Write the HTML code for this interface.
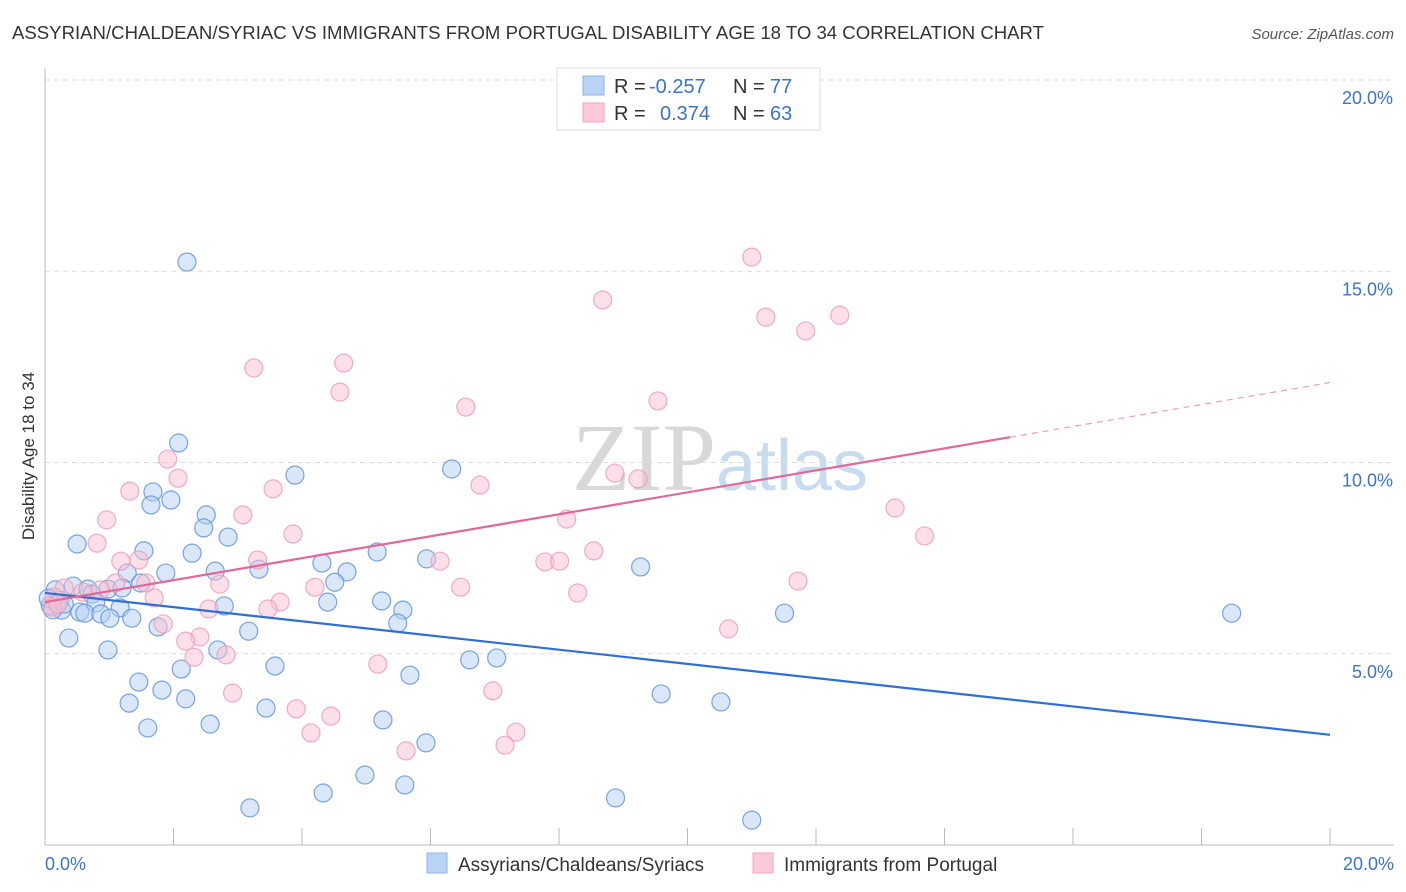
<!DOCTYPE html>
<html><head><meta charset="utf-8">
<style>
body{margin:0;background:#fff;font-family:"Liberation Sans",sans-serif;}
svg{display:block}
</style></head>
<body>
<svg id="chart" width="1406" height="892" xmlns="http://www.w3.org/2000/svg">
<text x="12" y="39" font-size="18" fill="#333" textLength="1032" lengthAdjust="spacingAndGlyphs">ASSYRIAN/CHALDEAN/SYRIAC VS IMMIGRANTS FROM PORTUGAL DISABILITY AGE 18 TO 34 CORRELATION CHART</text>
<text x="1394" y="39" font-size="15" fill="#555" font-style="italic" text-anchor="end">Source: ZipAtlas.com</text>
<text x="716" y="490" font-size="96" font-family="Liberation Serif" fill="#d8d8d8" text-anchor="end">ZIP</text>
<text x="716" y="490" font-size="72" fill="#c8dcf0">atlas</text>
<g id="grid"></g>
<g id="pts"></g>
<g id="lines"></g>
<text x="34" y="456" font-size="17" fill="#333" text-anchor="middle" transform="rotate(-90 34 456)">Disability Age 18 to 34</text>
<text x="45" y="870" font-size="18" fill="#3b74c9">0.0%</text>
<text x="1394" y="870" font-size="18" fill="#3b74c9" text-anchor="end">20.0%</text>
<g>
<rect x="557" y="68" width="263" height="62" fill="#fff" stroke="#ddd"/>
<rect x="583" y="76" width="21" height="19" fill="#b9d3f5" stroke="#8fb3e8"/>
<rect x="583" y="103" width="21" height="19" fill="#fbc9d8" stroke="#f2a7bf"/>
<text x="614" y="93" font-size="20" fill="#333">R =</text>
<text x="649" y="93" font-size="20" fill="#3b74c9">-0.257</text>
<text x="733" y="93" font-size="20" fill="#333">N =</text>
<text x="770" y="93" font-size="20" fill="#3b74c9">77</text>
<text x="614" y="120" font-size="20" fill="#333">R =</text>
<text x="660" y="120" font-size="20" fill="#3b74c9">0.374</text>
<text x="733" y="120" font-size="20" fill="#333">N =</text>
<text x="770" y="120" font-size="20" fill="#3b74c9">63</text>
</g>
<g>
<rect x="427" y="853" width="20" height="20" fill="#b9d3f5" stroke="#8fb3e8"/>
<text x="458" y="871" font-size="19" fill="#333">Assyrians/Chaldeans/Syriacs</text>
<rect x="753" y="853" width="20" height="20" fill="#fbc9d8" stroke="#f2a7bf"/>
<text x="784" y="871" font-size="19" fill="#333">Immigrants from Portugal</text>
</g>
</svg>
<script>
const blueX=[2.21,2.08,3.89,6.33,1.68,1.96,1.65,2.51,2.47,2.85,0.50,1.54,2.29,5.17,5.94,4.31,9.27,3.33,2.65,4.70,1.88,1.28,4.51,1.49,0.44,0.67,0.98,0.16,1.20,0.73,0.23,0.08,0.79,4.40,5.24,2.79,1.17,0.26,5.57,0.54,0.62,0.87,11.51,18.47,1.01,1.35,5.49,1.76,3.17,0.37,0.98,2.69,7.03,6.61,3.58,2.12,5.68,1.46,1.82,9.59,2.19,1.31,10.52,3.44,5.26,2.57,1.60,5.93,4.98,5.60,4.33,8.88,3.19,11.00,0.05,0.12,0.30];
const blueY=[15.24,10.51,9.67,9.83,9.23,9.02,8.89,8.63,8.29,8.05,7.87,7.69,7.63,7.66,7.48,7.37,7.27,7.21,7.16,7.14,7.11,7.11,6.87,6.85,6.77,6.69,6.69,6.67,6.72,6.56,6.40,6.27,6.33,6.35,6.38,6.25,6.20,6.14,6.14,6.09,6.06,6.04,6.06,6.06,5.93,5.93,5.80,5.70,5.59,5.41,5.10,5.10,4.89,4.84,4.68,4.60,4.44,4.26,4.05,3.95,3.82,3.71,3.74,3.58,3.27,3.16,3.06,2.67,1.83,1.57,1.36,1.23,0.97,0.65,6.45,6.15,6.30];
const pinkX=[11.00,8.68,11.22,12.37,11.84,4.65,3.25,4.59,9.54,6.55,1.91,8.87,9.23,2.07,6.77,1.32,3.55,13.23,3.08,8.12,0.96,13.69,3.86,0.81,8.54,7.78,8.01,6.15,3.31,1.46,1.18,1.57,2.72,4.20,6.47,11.72,1.10,0.30,0.59,0.86,0.14,8.29,1.70,3.66,3.47,2.55,1.84,10.64,0.11,2.41,2.19,2.82,2.32,5.18,6.97,2.92,3.91,4.45,4.14,7.33,7.16,5.62,0.20];
const pinkY=[15.37,14.25,13.80,13.85,13.44,12.60,12.47,11.84,11.61,11.45,10.09,9.72,9.57,9.59,9.41,9.25,9.31,8.81,8.63,8.52,8.50,8.08,8.13,7.89,7.69,7.40,7.42,7.42,7.45,7.45,7.42,6.85,6.82,6.74,6.74,6.90,6.85,6.72,6.61,6.67,6.48,6.59,6.46,6.35,6.17,6.17,5.78,5.65,6.22,5.44,5.33,4.97,4.91,4.73,4.03,3.97,3.56,3.37,2.93,2.95,2.61,2.46,6.30];
const yTicks=[5,10,15,20];
const yTickLabels=["5.0%","10.0%","15.0%","20.0%"];
const blueTrend=[6.59,2.88];
const pinkTrend=[6.35,12.09];
const pinkSolidEnd=15.02;
const NS="http://www.w3.org/2000/svg";
const X=v=>45+v/20*1285, Y=v=>845-v*38.25;
function mk(tag,attrs,parent){const e=document.createElementNS(NS,tag);for(const k in attrs)e.setAttribute(k,attrs[k]);parent.appendChild(e);return e;}
const grid=document.getElementById('grid');
yTicks.forEach((t,i)=>{
  const l=mk('line',{x1:45,x2:1394,y1:Y(t),y2:Y(t),stroke:'#ddd','stroke-dasharray':'5,4'},grid);
  
  
  const tx=mk('text',{x:1393,y:Y(t)+24,'font-size':18,fill:'#3b74c9','text-anchor':'end'},grid);
  tx.textContent=yTickLabels[i];
  
  
});
const ax=mk('line',{x1:45,x2:45,y1:68,y2:845,stroke:'#bbb'},grid);


const bx=mk('line',{x1:45,x2:1394,y1:845,y2:845,stroke:'#bbb'},grid);


for(let i=0;i<=10;i++){
  const t=mk('line',{x1:X(i*2),x2:X(i*2),y1:828,y2:845,stroke:'#bbb'},grid);
  
  
}
const pts=document.getElementById('pts');
function dots(xs,ys,fill,stroke,name){
  xs.forEach((x,i)=>{
    const c=mk('circle',{cx:X(x),cy:Y(ys[i]),r:9,fill:fill,'fill-opacity':0.5,stroke:stroke,'stroke-width':1.2,'stroke-opacity':0.8},pts);
    
    
  });
}
dots(blueX,blueY,'#b3cff2','#5b8fdc','point-assyrians');
dots(pinkX,pinkY,'#f9c0d2','#ee9ab4','point-portugal');
const lines=document.getElementById('lines');
const bl=mk('line',{x1:X(0),y1:Y(blueTrend[0]),x2:X(20),y2:Y(blueTrend[1]),stroke:'#2f6fd4','stroke-width':2.2},lines);


const py=x=>pinkTrend[0]+(pinkTrend[1]-pinkTrend[0])*x/20;
const pl=mk('line',{x1:X(0),y1:Y(py(0)),x2:X(pinkSolidEnd),y2:Y(py(pinkSolidEnd)),stroke:'#e3689a','stroke-width':2.2},lines);


const pd=mk('line',{x1:X(pinkSolidEnd),y1:Y(py(pinkSolidEnd)),x2:X(20),y2:Y(py(20)),stroke:'#e9a0bb','stroke-width':1.2,'stroke-dasharray':'6,5'},lines);


</script>
</body></html>
